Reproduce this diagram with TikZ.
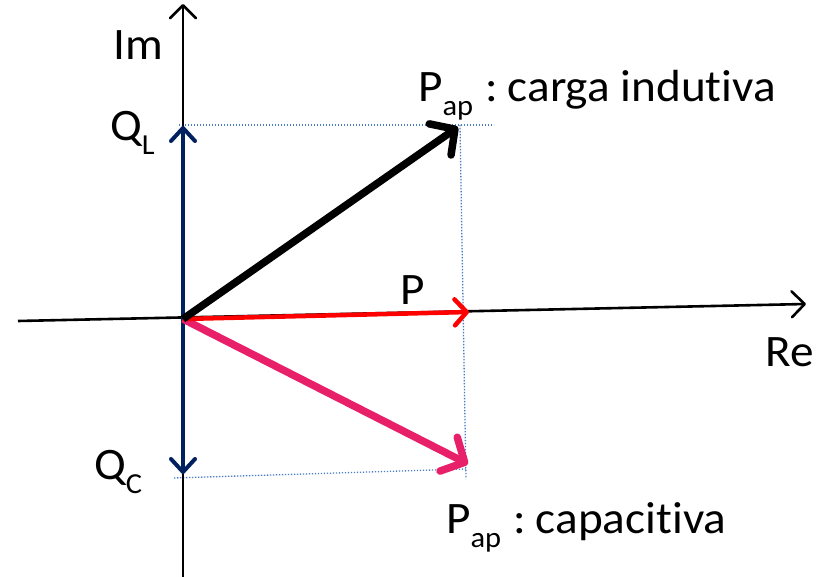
\documentclass[tikz,border=0pt]{standalone}
\usepackage{fontspec}
\setmainfont{Carlito}[Ligatures={NoCommon},FakeStretch=1.05]
\usetikzlibrary{arrows.meta}
\definecolor{navy}{HTML}{002060}
\definecolor{pinkv}{HTML}{E8206A}
\definecolor{dotblue}{HTML}{4A7EC4}
\tikzset{
  axis/.style={line width=2.6pt, -{Straight Barb[length=13pt,width=26pt,line width=2.6pt,round]}},
  thickvec/.style={line width=7.5pt, -{Straight Barb[length=18pt,width=38pt,round]}},
  redvec/.style={red, line width=4.5pt, -{Straight Barb[length=12pt,width=26pt,round]}},
  bluevec/.style={navy, line width=4pt, -{Straight Barb[length=13pt,width=24pt,round]}},
  guide/.style={dotblue, line width=1.3pt, dash pattern=on 1.3pt off 1.7pt},
  lbl/.style={inner sep=0pt, anchor=base west, font=\fontsize{45}{50}\selectfont},
}
\newcommand{\sbs}[1]{\raisebox{-14pt}{\fontsize{29}{32}\selectfont #1}}
\newcommand{\sep}{\hspace{12pt}:\hspace{10pt}}
\begin{document}
\begin{tikzpicture}[x=1pt,y=-1pt]
\useasboundingbox (0,0) rectangle (823,577);
\coordinate (O) at (183,319);
\coordinate (reL) at (18,321);
\coordinate (reR) at (806,304);
\coordinate (imB) at (183,577);
\coordinate (imT) at (183,4);
\coordinate (QL) at (183,126);
\coordinate (QC) at (183,474);
\coordinate (Pind) at (458,127);
\coordinate (Pcap) at (468,464);
\coordinate (Pr) at (469,312);
\coordinate (g1a) at (179,125);
\coordinate (g1b) at (494,125);
\coordinate (g2a) at (460,125);
\coordinate (g2b) at (466,479);
\coordinate (g3a) at (174,478);
\coordinate (g3b) at (466,469);
% guides
\draw[guide] (g1a) -- (g1b);
\draw[guide] (g2a) -- (g2b);
\draw[guide] (g3a) -- (g3b);
% axes
\draw[axis] (reL) -- (reR);
\draw[axis] (imB) -- (imT);
% vectors
\draw[bluevec] (O) -- (QL);
\draw[bluevec] (O) -- (QC);
\draw[pinkv, thickvec] (O) -- (Pcap);
\draw[redvec] (O) -- (Pr);
\draw[thickvec] (O) -- (Pind);
% labels
\node[lbl] (im) at (113,60) {Im};
\node[lbl] (re) at (765,367) {Re};
\node[lbl] (p) at (400,305) {P};
\node[lbl] (ql) at (110,141) {Q\sbs{L}};
\node[lbl] (qc) at (94,480) {Q\sbs{C}};
\node[lbl] (pi) at (418,102) {P\sbs{ap}\sep carga indutiva};
\node[lbl] (pc) at (446,533) {P\sbs{ap}\sep capacitiva};
\end{tikzpicture}
\end{document}
